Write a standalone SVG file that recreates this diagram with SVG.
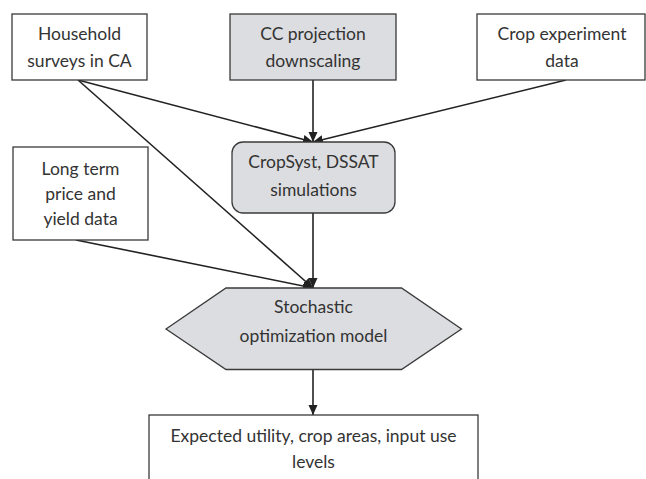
<svg xmlns="http://www.w3.org/2000/svg" width="646" height="479" viewBox="0 0 646 479">
  <defs>
    <marker id="arrow" markerUnits="userSpaceOnUse" markerWidth="11" markerHeight="10" refX="10" refY="4.5" orient="auto">
      <path d="M0,0 L10,4.5 L0,9 z" fill="#222"/>
    </marker>
    <style>
      .box { fill: #ffffff; stroke: #3a3a3a; stroke-width: 1.3; }
      .gray { fill: #dcdde0; stroke: #3a3a3a; stroke-width: 1.3; }
      .lbl { font-family: Lato, "Liberation Sans", sans-serif; font-size: 17.5px; fill: #333; text-anchor: middle; }
      .edge { fill: none; stroke: #222; stroke-width: 1.6; marker-end: url(#arrow); }
    </style>
  </defs>
  <rect width="646" height="479" fill="#ffffff"/>

  <g id="connectors">
    <line class="edge" x1="78" y1="80" x2="313" y2="142"/>
    <line class="edge" x1="313" y1="80" x2="313" y2="142"/>
    <line class="edge" x1="566" y1="80" x2="313" y2="142"/>
    <line class="edge" x1="78" y1="80" x2="313" y2="288"/>
    <line class="edge" x1="76" y1="240" x2="313" y2="288"/>
    <line class="edge" x1="313" y1="213" x2="313" y2="288"/>
    <line class="edge" x1="313" y1="370" x2="313" y2="415"/>
  </g>

  <g id="household">
    <rect class="box" x="12" y="14" width="135" height="66"/>
    <text class="lbl" x="79.5" y="40">Household</text>
    <text class="lbl" x="79.5" y="67">surveys in CA</text>
  </g>

  <g id="cc-projection">
    <rect class="gray" x="230" y="14" width="166" height="66"/>
    <text class="lbl" x="313" y="40">CC projection</text>
    <text class="lbl" x="313" y="67">downscaling</text>
  </g>

  <g id="crop-experiment">
    <rect class="box" x="477" y="14" width="168" height="66"/>
    <text class="lbl" x="562" y="40">Crop experiment</text>
    <text class="lbl" x="562" y="67">data</text>
  </g>

  <g id="cropsyst">
    <rect class="gray" x="232" y="142" width="163" height="71" rx="11" ry="11"/>
    <text class="lbl" x="313.5" y="168">CropSyst, DSSAT</text>
    <text class="lbl" x="313.5" y="196">simulations</text>
  </g>

  <g id="long-term">
    <rect class="box" x="13" y="147" width="135" height="93"/>
    <text class="lbl" x="80.5" y="175">Long term</text>
    <text class="lbl" x="80.5" y="200">price and</text>
    <text class="lbl" x="80.5" y="225">yield data</text>
  </g>

  <g id="stochastic">
    <polygon class="gray" points="166,329 226,288 401.5,288 461.5,329 401.5,369.5 226,369.5"/>
    <text class="lbl" x="313.5" y="313">Stochastic</text>
    <text class="lbl" x="313.5" y="341.5">optimization model</text>
  </g>

  <g id="output">
    <rect class="box" x="149" y="415" width="329" height="80"/>
    <text class="lbl" x="313.5" y="441.5">Expected utility, crop areas, input use</text>
    <text class="lbl" x="313.5" y="468">levels</text>
  </g>
</svg>
